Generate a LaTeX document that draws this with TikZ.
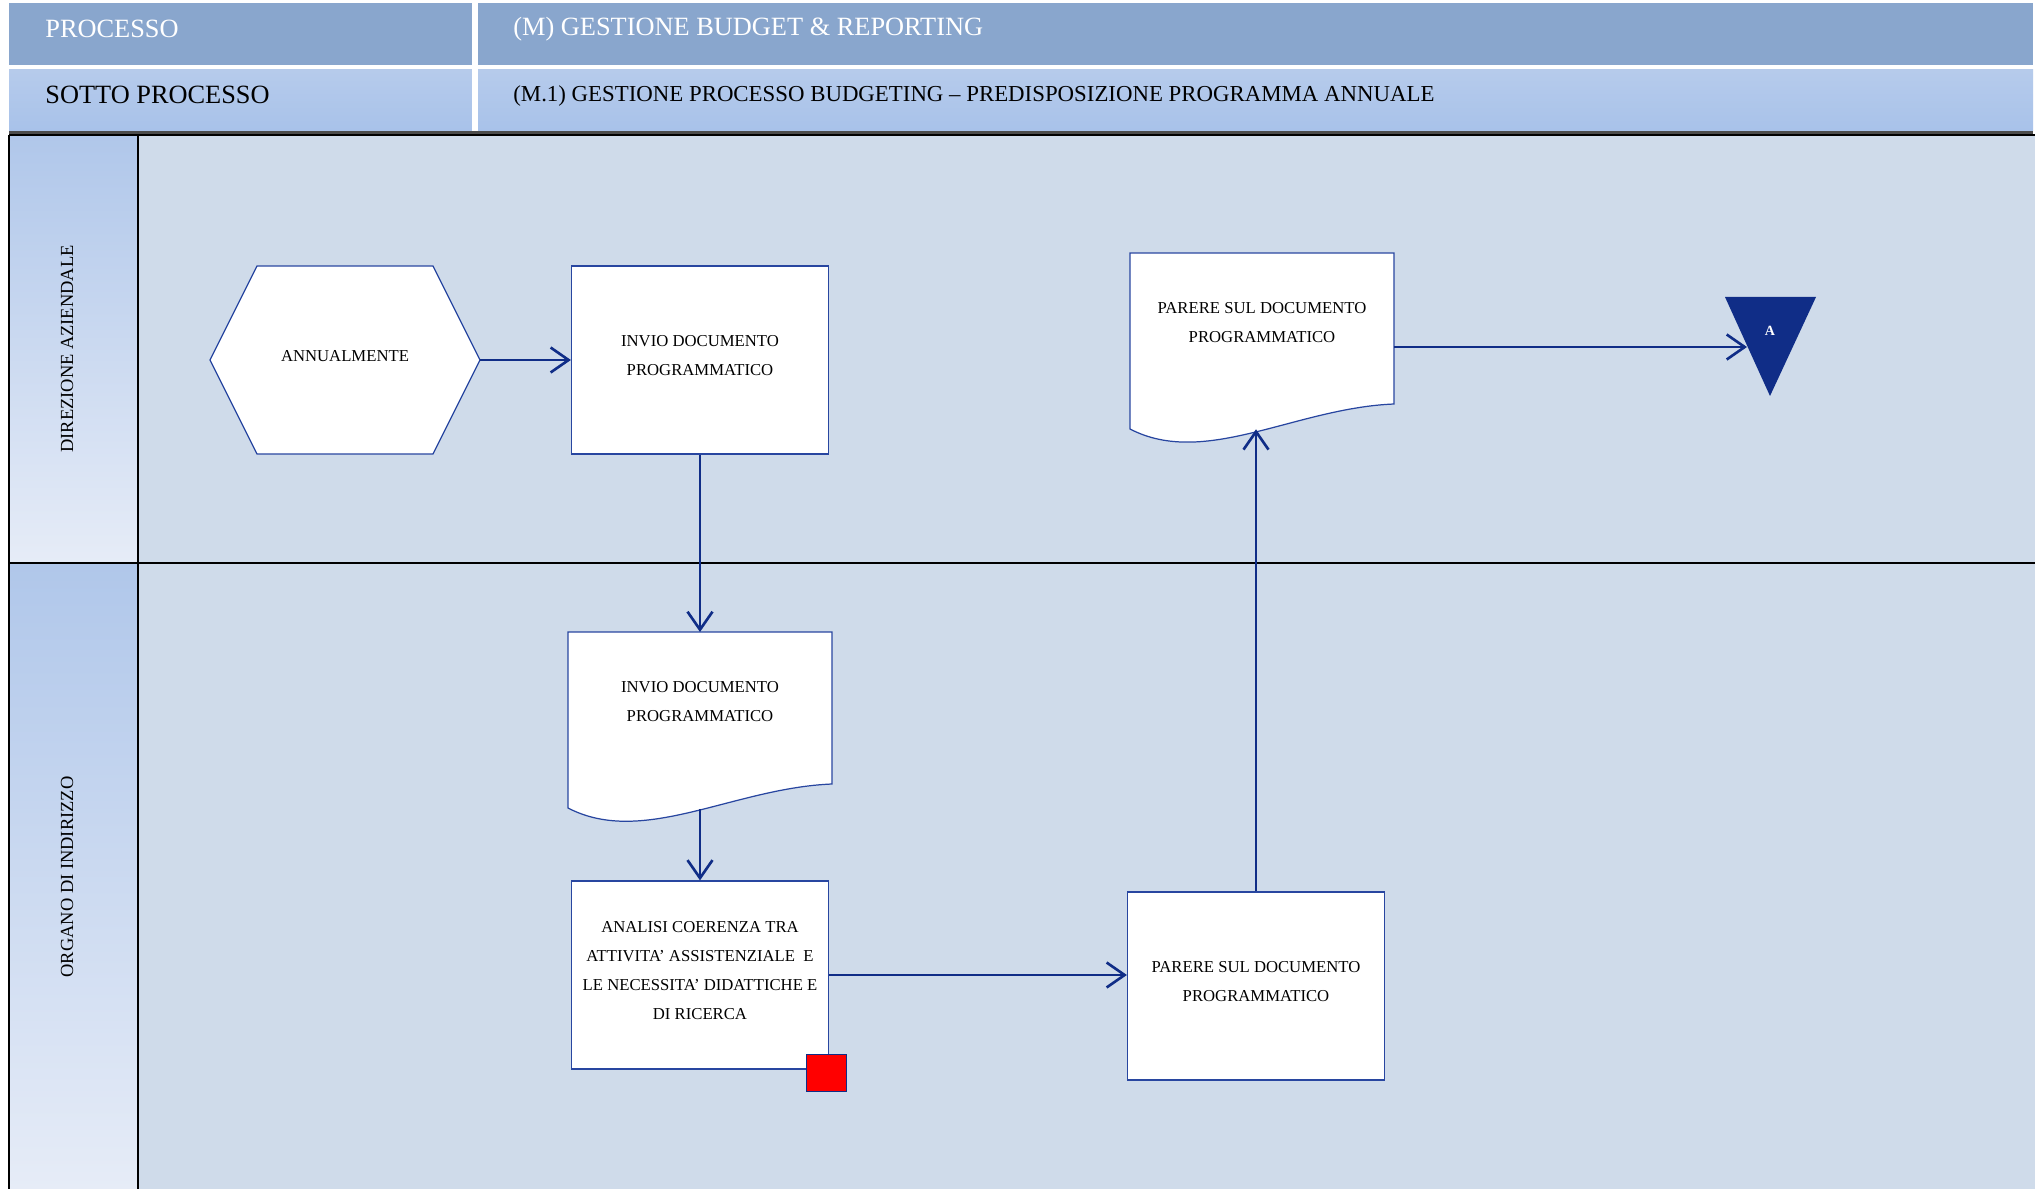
\documentclass[tikz,border=0pt]{standalone}
\usepackage{fontspec}
\setmainfont{Liberation Serif}
\usetikzlibrary{arrows.meta,calc}
\definecolor{navy}{RGB}{16,45,135}
\definecolor{edgeblue}{RGB}{40,70,160}
\definecolor{hdrdark}{RGB}{137,166,205}
\definecolor{hdrtop}{RGB}{182,203,235}
\definecolor{hdrbot}{RGB}{168,194,234}
\definecolor{lanebg}{RGB}{207,219,234}
\definecolor{coltop}{RGB}{176,199,234}
\definecolor{colbot}{RGB}{230,236,247}
\begin{document}
\begin{tikzpicture}[x=0.02cm,y=-0.02cm,
  txt/.style={align=center,font=\fontsize{9.5}{16.5}\selectfont,inner sep=0pt},
  boxnode/.style={txt,draw=edgeblue,line width=0.7pt,fill=white,minimum width=5.14cm,minimum height=3.76cm,text depth=0.2cm},
  shapeline/.style={draw=edgeblue,line width=0.7pt,fill=white},
  flow/.style={draw=navy,line width=1.5pt,-{Straight Barb[length=3.6mm,width=5mm]}},
  hdrtxt/.style={anchor=west,font=\fontsize{15}{17}\selectfont,inner sep=0pt},
  lanelbl/.style={rotate=90,font=\fontsize{10.5}{12}\selectfont,inner sep=0pt}]
\useasboundingbox (0,0) rectangle (2035,1189);
\fill[white] (0,0) rectangle (2035,1189);
\fill[hdrdark] (9,3) rectangle (2033,65);
\shade[top color=hdrtop,bottom color=hdrbot] (9,70) rectangle (2033,131);
\fill[white] (472,3) rectangle (478,131);
\fill[black!70] (9,131) rectangle (2033,136);
\node[hdrtxt,white] (proc) at (45,29) {PROCESSO};
\node[hdrtxt,white] (proctit) at (513,29) {(M) GESTIONE BUDGET \& REPORTING};
\node[hdrtxt] (sub) at (45,95) {SOTTO PROCESSO};
\node[hdrtxt,font=\fontsize{13}{15}\selectfont] (subtit) at (513,96) {(M.1) GESTIONE PROCESSO BUDGETING -- PREDISPOSIZIONE PROGRAMMA ANNUALE};
\fill[lanebg] (138,135) rectangle (2035,1189);
\shade[top color=coltop,bottom color=colbot] (9,135) rectangle (138,563);
\shade[top color=coltop,bottom color=colbot] (9,563) rectangle (138,1189);
\draw[line width=1.3pt] (9,135) -- (2035,135);
\draw[line width=1.3pt] (9,563) -- (2035,563);
\draw[line width=1.3pt] (9,135) -- (9,1189);
\draw[line width=1.3pt] (138,135) -- (138,1189);
\node[lanelbl] (lane1) at (67,349) {DIREZIONE AZIENDALE};
\node[lanelbl] (lane2) at (67,877) {ORGANO DI INDIRIZZO};
\coordinate (hx) at (345,356);
\coordinate (hxe) at (480,360);
\filldraw[shapeline] (210,360) -- (257,266) -- (433,266) -- (hxe) -- (433,454) -- (257,454) -- cycle;
\node[txt] (hex) at (hx) {ANNUALMENTE};
\node[boxnode] (b1) at (700,360) {INVIO DOCUMENTO\\PROGRAMMATICO};
\coordinate (d1) at (1130,253);
\filldraw[shapeline] (d1) -- ($(d1)+(264,0)$) -- ($(d1)+(264,151)$) .. controls ($(d1)+(165,155)$) and ($(d1)+(75,215)$) .. ($(d1)+(0,176)$) coordinate[pos=0.45] (d1w) -- cycle;
\node[txt] (d1t) at ($(d1)+(132,70)$) {PARERE SUL DOCUMENTO\\PROGRAMMATICO};
\coordinate (d1e) at (1394,347);
\coordinate (tA) at (1747,347);
\fill[navy] (1725,297) -- (1816,297) -- (1770,396) -- cycle;
\node[font=\fontsize{8}{9}\bfseries,white,inner sep=0pt] (tri) at (1770,331) {A};
\coordinate (d2) at (568,632);
\filldraw[shapeline] (d2) -- ($(d2)+(264,0)$) -- ($(d2)+(264,152)$) .. controls ($(d2)+(165,156)$) and ($(d2)+(75,215)$) .. ($(d2)+(0,176)$) coordinate[pos=0.45] (d2w) -- cycle;
\node[txt] (d2t) at ($(d2)+(132,70)$) {INVIO DOCUMENTO\\PROGRAMMATICO};
\node[boxnode] (b3) at (700,975) {ANALISI COERENZA TRA\\ATTIVITA' ASSISTENZIALE~~E\\LE NECESSITA' DIDATTICHE E\\DI RICERCA};
\node[draw=navy,fill=red,minimum width=0.8cm,minimum height=0.74cm,inner sep=0pt] (flag) at ($(b3.south east)+(-3,3)$) {};
\node[boxnode] (b4) at (1256,986) {PARERE SUL DOCUMENTO\\PROGRAMMATICO};
\draw[flow] (hxe) -- (b1.west);
\draw[flow] (b1.south) -- (b1.south |- d2);
\draw[flow] (b3.north |- d2w) -- (b3.north);
\draw[flow] (b3.east) -- (b3.east -| b4.west);
\draw[flow] (b4.north) -- (b4.north |- d1w);
\draw[flow] (d1e) -- (tA);
\end{tikzpicture}
\end{document}
